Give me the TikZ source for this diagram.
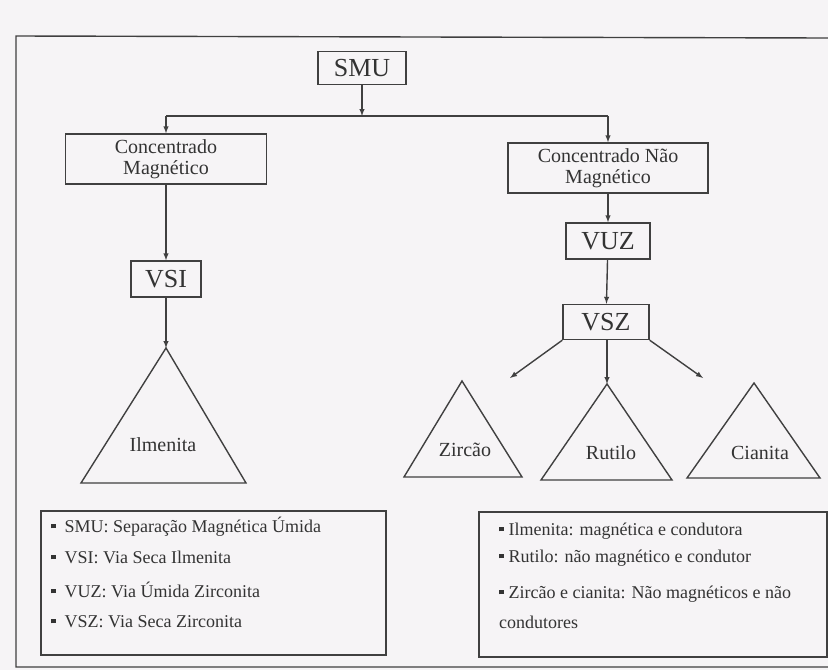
\documentclass[tikz,border=0pt]{standalone}
\usepackage{fontspec}
\setmainfont{Liberation Serif}
\usetikzlibrary{arrows,positioning}
\definecolor{paper}{rgb}{0.965,0.957,0.965}
\definecolor{ink}{rgb}{0.2,0.2,0.2}
\definecolor{edge}{rgb}{0.25,0.25,0.25}
\newcommand{\sq}{\raisebox{0.2em}{\rule{4.5pt}{4.5pt}}}

\begin{document}
\begin{tikzpicture}[x=1pt,y=-1pt]
\tikzstyle{bx}=[draw=edge,line width=1.4pt,inner sep=0pt,text=ink,font=\fontsize{26}{28}\selectfont]
\tikzstyle{cbx}=[bx,align=center,font=\fontsize{20}{21}\selectfont]
\tikzstyle{lbl}=[text=ink,font=\fontsize{20}{22}\selectfont]
\tikzstyle{leg}=[text=ink,inner sep=0pt,anchor=base west,font=\fontsize{18}{20}\selectfont]
\tikzstyle{tri}=[draw=edge,line width=1.4pt,line join=miter]
\tikzstyle{arr}=[->,>=latex,draw=edge,line width=1.4pt]
\fill[paper] (0,0) rectangle (828,670);
\useasboundingbox (0,0) rectangle (828,670);
\draw[edge,line width=1.4pt] (828,38) -- (16,36) -- (16,667) -- (828,667);

\node[bx,minimum width=88,minimum height=33] (smu) at (362,68) {SMU};
\node[cbx,minimum width=201,minimum height=50] (cm) at (166,159) {Concentrado\\Magnético};
\node[cbx,minimum width=200,minimum height=50] (cnm) at (608,168) {Concentrado Não\\Magnético};
\node[bx,minimum width=70,minimum height=36] (vsi) at (166,279) {VSI};
\node[bx,minimum width=84,minimum height=36] (vuz) at (608,241) {VUZ};
\node[bx,minimum width=86,minimum height=35] (vsz) at (606,322) {VSZ};

\coordinate (j) at (362,116);
\coordinate (jl) at (166,116);
\coordinate (jr) at (608,116);
\coordinate (zarr) at (510,378);
\coordinate (carr) at (703,378);

\coordinate (ilm) at (166,348);
\coordinate (zir) at (462,381);
\coordinate (rut) at (607,384);
\coordinate (cia) at (754,383);
\draw[tri] (ilm) -- (246,483) -- (81,483) -- cycle;
\draw[tri] (zir) -- (522,477) -- (404,477) -- cycle;
\draw[tri] (rut) -- (672,480) -- (541,480) -- cycle;
\draw[tri] (cia) -- (820,478) -- (687,478) -- cycle;
\node[lbl] (ilmt) at (163,445) {Ilmenita};
\node[lbl] (zirt) at (465,450) {Zircão};
\node[lbl] (rutt) at (611,453) {Rutilo};
\node[lbl] (ciat) at (760,453) {Cianita};

\draw[arr] (smu) -- (j);
\draw[edge,line width=1.4pt] (jl) -- (jr);
\draw[arr] (jl) -- (cm);
\draw[arr] (jr) -- (cnm);
\draw[arr] (cm) -- (vsi);
\draw[arr] (vsi) -- (ilm);
\draw[arr] (cnm) -- (vuz);
\draw[arr] (vuz) -- (vsz);
\draw[arr] (vsz.south west) -- (zarr);
\draw[arr] (vsz.south -| rut) -- (rut);
\draw[arr] (vsz.south east) -- (carr);

\node[draw=edge,line width=1.4pt,minimum width=345,minimum height=144] (legl) at (213.5,583) {};
\node[draw=edge,line width=1.4pt,minimum width=348,minimum height=145] (legr) at (653,584.5) {};
\node[leg] (l1) at (51,532) {\sq\hspace{9pt}SMU: Separação Magnética Úmida};
\node[leg] (l2) at (51,563) {\sq\hspace{9pt}VSI: Via Seca Ilmenita};
\node[leg] (l3) at (51,597) {\sq\hspace{9pt}VUZ: Via Úmida Zirconita};
\node[leg] (l4) at (51,627) {\sq\hspace{9pt}VSZ: Via Seca Zirconita};
\node[leg] (r1) at (499,535) {\sq\hspace{5pt}Ilmenita: magnética e condutora};
\node[leg] (r2) at (499,562) {\sq\hspace{5pt}Rutilo: não magnético e condutor};
\node[leg] (r3) at (499,598) {\sq\hspace{5pt}Zircão e cianita: Não magnéticos e não};
\node[leg] (r4) at (499,628) {condutores};
\end{tikzpicture}
\end{document}
